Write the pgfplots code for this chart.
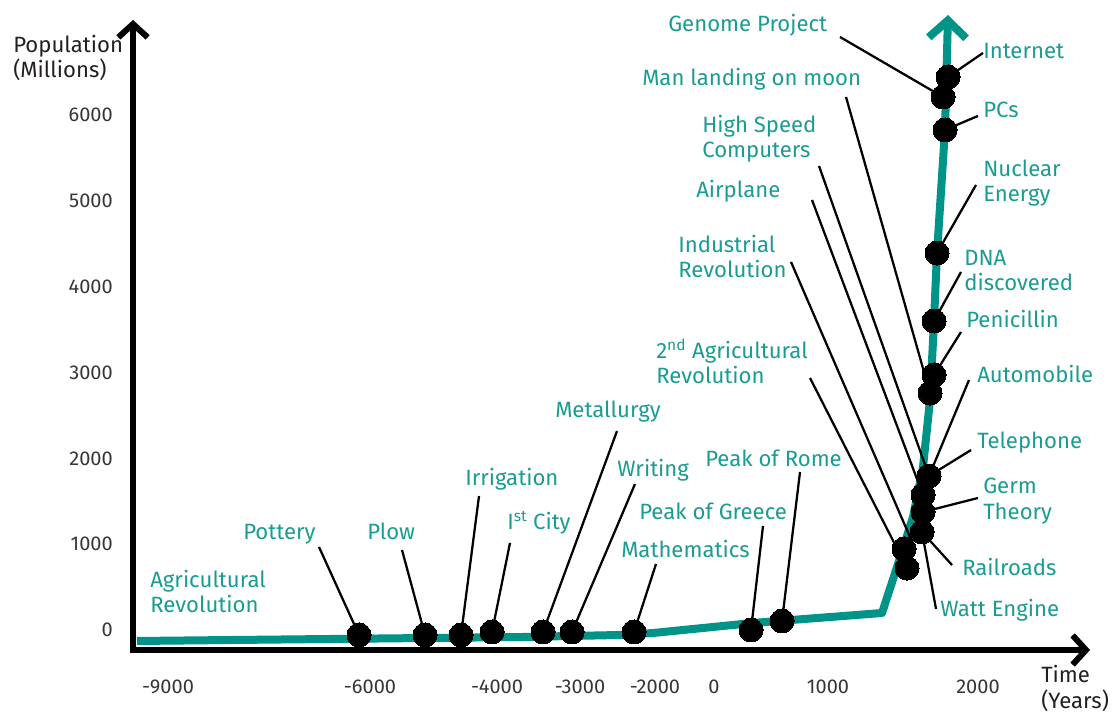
\documentclass[border=0pt]{standalone}
\usepackage{pgfplots}
\pgfplotsset{compat=1.18}
\usepackage{fontspec}
\setmainfont{Fira Sans}
\usetikzlibrary{arrows.meta}
\definecolor{curveteal}{RGB}{0,148,136}
\definecolor{lbl}{RGB}{25,156,146}
\definecolor{dark}{RGB}{35,31,32}
\pgfplotstableread{
x v
137 -128
520 -82
620 -58
653 -35
753 82
882 198
897 734
913 1317
923 1899
930 2680
934 3600
937 4392
945 5826
948 7165
}\curvedata
\pgfplotstableread{
x v
359 -58
425 -58
461 -58
492 -23
543 -23
572 -23
634 -23
751 0
782 105
907 722
904 944
922 1142
923 1375
923 1573
929 1794
930 2761
934 2971
934 3600
937 4392
945 5826
943 6210
948 6443
}\dotdata
\pgfplotstableread{
x v
319 967
359 -58
nan nan
402 932
425 -58
nan nan
479 1561
461 -58
nan nan
510 1014
492 -23
nan nan
617 2318
543 -23
nan nan
635 1701
572 -23
nan nan
656 769
634 -23
nan nan
763 1212
751 0
nan nan
800 1841
782 105
nan nan
810 2936
907 722
nan nan
791 4288
913 1002
nan nan
812 5010
923 1573
nan nan
819 5406
929 1794
nan nan
846 6210
930 2761
nan nan
840 6909
943 6210
nan nan
983 6723
948 6443
nan nan
978 5989
945 5826
nan nan
976 5185
937 4392
nan nan
961 4171
934 3600
nan nan
961 3472
934 2971
nan nan
969 2913
929 1794
nan nan
971 2097
929 1794
nan nan
978 1538
923 1375
nan nan
952 757
922 1142
nan nan
936 245
922 1142
}\leaderdata
\begin{document}
\begin{tikzpicture}
\useasboundingbox (0,0) rectangle (834.75pt,534.75pt);
\begin{axis}[
  at={(99.75pt,47.25pt)}, anchor=south west,
  scale only axis, width=717.75pt, height=472.5pt,
  xmin=133, xmax=1090, ymin=-233, ymax=7107,
  axis lines=left,
  axis line style={line width=4.5pt, draw=black, line cap=rect, -{Straight Barb[length=10pt,width=22pt]}},
  clip=false,
  xtick={168,370,497,580,655,714,828,978},
  xticklabels={-9000,-6000,-4000,-3000,-2000,0,1000,2000},
  ytick={0,1000,2000,3000,4000,5000,6000},
  yticklabels={0,1000,2000,3000,4000,5000,6000},
  major tick length=0pt,
  tick style={draw=none},
  xticklabel style={anchor=base, inner sep=0pt, yshift=-32.5pt, font=\fontsize{15}{18}\selectfont, text=dark!90},
  yticklabel style={anchor=east, inner sep=0pt, xshift=-15pt, font=\fontsize{15}{18}\selectfont, text=dark!90},
  unbounded coords=jump,
]
\addplot[curveteal, line width=6pt, line join=round, -{Straight Barb[length=13pt,width=28pt]}] table[x=x,y=v] {\curvedata};
\addplot[black, line width=1.7pt] table[x=x,y=v] {\leaderdata};
\addplot[only marks, mark=*, mark size=9pt, black, mark options={draw=black, fill=black, line width=0pt}] table[x=x,y=v] {\dotdata};
\end{axis}
\begin{scope}[x=0.75pt, y=-0.75pt, yshift=534.75pt,
  every node/.style={inner sep=0pt, anchor=base west, text=lbl, font=\fontsize{16.6}{19}\selectfont}]
\node[text=dark] at (13,53) {Population};
\node[text=dark] at (13,78) {(Millions)};
\node[text=dark] at (1041,683) {Time};
\node[text=dark] at (1041,709) {(Years)};
\node at (150,588) {Agricultural};
\node at (150,613) {Revolution};
\node at (243,540) {Pottery};
\node at (367,540) {Plow};
\node at (465,486) {Irrigation};
\node at (507,530) {I\textsuperscript{st} City};
\node at (555,418) {Metallurgy};
\node at (617,477) {Writing};
\node at (621,558) {Mathematics};
\node at (639,520) {Peak of Greece};
\node at (705,467) {Peak of Rome};
\node at (656,359) {2\textsuperscript{nd} Agricultural};
\node at (656,384) {Revolution};
\node at (678,253) {Industrial};
\node at (678,278) {Revolution};
\node at (696,198) {Airplane};
\node at (702,133) {High Speed};
\node at (702,158) {Computers};
\node at (642,86) {Man landing on moon};
\node at (668,32) {Genome Project};
\node at (983,59) {Internet};
\node at (983,118) {PCs};
\node at (983,177) {Nuclear};
\node at (983,202) {Energy};
\node at (964,266) {DNA};
\node at (964,291) {discovered};
\node at (966,328) {Penicillin};
\node at (977,383) {Automobile};
\node at (977,449) {Telephone};
\node at (983,494) {Germ};
\node at (983,520) {Theory};
\node at (962,576) {Railroads};
\node at (940,617) {Watt Engine};
\end{scope}
\end{tikzpicture}
\end{document}
